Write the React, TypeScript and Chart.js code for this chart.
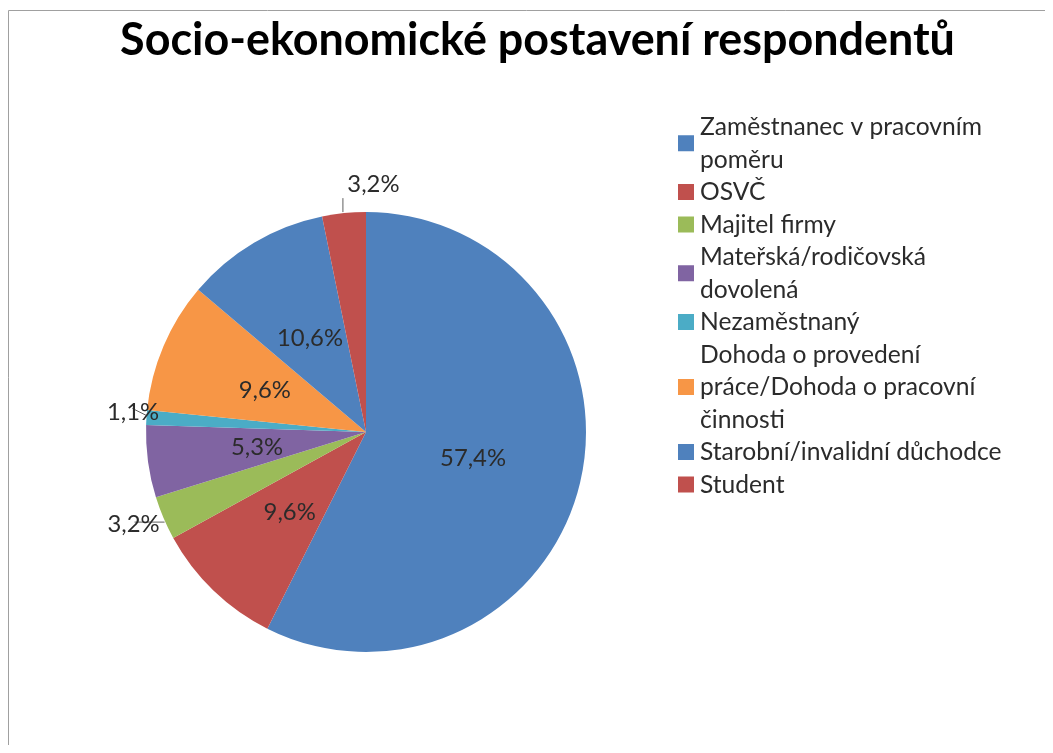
import React, { useEffect, useRef } from "react";
import { Chart, registerables } from "chart.js";

Chart.register(...registerables);

// ---- data ----
const titleText = "Socio-ekonomické postavení respondentů";
const categories = [
  "Zaměstnanec v pracovním\npoměru",
  "OSVČ",
  "Majitel firmy",
  "Mateřská/rodičovská\ndovolená",
  "Nezaměstnaný",
  "Dohoda o provedení\npráce/Dohoda o pracovní\nčinnosti",
  "Starobní/invalidní důchodce",
  "Student",
];
const values = [57.4, 9.6, 3.2, 5.3, 1.1, 9.6, 10.6, 3.2];
const colors = ["#4F81BD", "#C0504D", "#9BBB59", "#8064A2", "#4BACC6", "#F79646", "#4F81BD", "#C0504D"];

// ---- styling / layout ----
const FAMILY = "Lato, 'Open Sans', sans-serif";
const W = 1037;
const H = 737;
const TEXT_COLOR = "#2b2b2b";
const outsideLabels: Record<number, { leaderFrom: [number, number]; leaderTo: [number, number]; text: [number, number] }> = {
  2: { leaderFrom: [1, 4], leaderTo: [-29, 4], text: [-30, 5] },
  4: { leaderFrom: [0, -2], leaderTo: [-14, -9], text: [-13.5, -6] },
  7: { leaderFrom: [-1, -1], leaderTo: [-1, -15], text: [29.5, -29.5] },
};

function fitSize(ctx: CanvasRenderingContext2D, text: string, target: number, weight: string) {
  ctx.font = `${weight} 100px ${FAMILY}`;
  const w = ctx.measureText(text).width;
  return (100 * target) / w;
}

const fmt = (v: number) => v.toFixed(1).replace(".", ",") + "%";

const decorPlugin = {
  id: "decor",
  beforeDraw(chart: any) {
    const ctx: CanvasRenderingContext2D = chart.ctx;
    ctx.save();
    ctx.strokeStyle = "#a0a0a0";
    ctx.lineWidth = 1;
    ctx.beginPath();
    ctx.moveTo(0.5, H);
    ctx.lineTo(0.5, 2.5);
    ctx.lineTo(W, 2.5);
    ctx.stroke();
    ctx.restore();
  },
  afterDatasetsDraw(chart: any) {
    const ctx: CanvasRenderingContext2D = chart.ctx;
    const meta = chart.getDatasetMeta(0);
    const size = fitSize(ctx, "57,4%", 66, "normal");
    ctx.save();
    ctx.font = `normal ${size}px ${FAMILY}`;
    ctx.textAlign = "center";
    ctx.textBaseline = "alphabetic";
    const capHalf = size * 0.36;
    meta.data.forEach((arc: any, i: number) => {
      const { x, y, startAngle, endAngle, outerRadius } = arc.getProps(["x", "y", "startAngle", "endAngle", "outerRadius"], true);
      const mid = (startAngle + endAngle) / 2;
      const label = fmt(values[i]);
      const out = outsideLabels[i];
      ctx.fillStyle = TEXT_COLOR;
      if (out) {
        const ex = x + Math.cos(mid) * outerRadius;
        const ey = y + Math.sin(mid) * outerRadius;
        ctx.strokeStyle = "#5f5f5f";
        ctx.lineWidth = 1;
        ctx.beginPath();
        ctx.moveTo(ex + out.leaderFrom[0], ey + out.leaderFrom[1]);
        ctx.lineTo(ex + out.leaderTo[0], ey + out.leaderTo[1]);
        ctx.stroke();
        ctx.fillText(label, ex + out.text[0], ey + out.text[1] + capHalf);
      } else {
        const r = outerRadius * 0.5;
        ctx.fillText(label, x + Math.cos(mid) * r, y + Math.sin(mid) * r + capHalf);
      }
    });
    ctx.restore();
  },
  afterDraw(chart: any) {
    const ctx: CanvasRenderingContext2D = chart.ctx;
    ctx.save();
    // title
    const tSize = fitSize(ctx, titleText, 835, "bold");
    ctx.font = `bold ${tSize}px ${FAMILY}`;
    ctx.fillStyle = "#000000";
    ctx.textAlign = "center";
    ctx.textBaseline = "alphabetic";
    ctx.fillText(titleText, 529.5, 47);

    // legend
    const lSize = fitSize(ctx, "Zaměstnanec v pracovním", 282, "normal");
    ctx.font = `normal ${lSize}px ${FAMILY}`;
    ctx.textAlign = "left";
    const lineH = 32.5;
    const firstBaseline = 127;
    const textX = 692;
    const sq = 16;
    const sqX = 670;
    let line = 0;
    categories.forEach((cat, i) => {
      const lines = cat.split("\n");
      const baselines = lines.map((_, k) => firstBaseline + (line + k) * lineH);
      const avg = baselines.reduce((a, b) => a + b, 0) / baselines.length;
      const cy = avg - 8;
      ctx.fillStyle = colors[i];
      ctx.fillRect(sqX, cy - sq / 2, sq, sq);
      ctx.fillStyle = TEXT_COLOR;
      lines.forEach((t, k) => ctx.fillText(t, textX, baselines[k]));
      line += lines.length;
    });
    ctx.restore();
  },
};

export default function App() {
  const ref = useRef<HTMLCanvasElement | null>(null);
  useEffect(() => {
    if (!ref.current) return;
    const chart = new Chart(ref.current, {
      type: "pie",
      data: {
        labels: categories.map((c) => c.replace(/\n/g, " ")),
        datasets: [
          {
            data: values,
            backgroundColor: colors,
            borderColor: colors,
            borderWidth: 0,
          },
        ],
      },
      options: {
        responsive: false,
        animation: false,
        events: [],
        layout: { padding: { left: 138, top: 204, right: 459, bottom: 93 } },
        plugins: {
          legend: { display: false },
          title: { display: false },
          tooltip: { enabled: false },
        },
      },
      plugins: [decorPlugin as any],
    });
    return () => chart.destroy();
  }, []);
  return (
    <div style={{ width: W, height: H, background: "#ffffff" }}>
      <canvas ref={ref} width={W} height={H} style={{ display: "block", width: W, height: H }} />
    </div>
  );
}
